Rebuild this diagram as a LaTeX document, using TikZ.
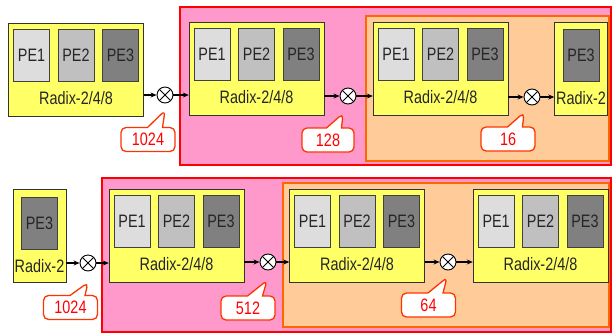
\documentclass[tikz,border=0pt]{standalone}
\usepackage{fontspec}
\setmainfont{Liberation Sans}[FakeStretch=0.8]
\usetikzlibrary{
  arrows.meta,
  positioning,
  shapes.callouts,
  calc
}
\definecolor{rdyellow}{HTML}{FFFF66}
\definecolor{rdpink}{HTML}{FF99CC}
\definecolor{rdpeach}{HTML}{FFCC99}
\definecolor{rdorange}{HTML}{FF6600}
\definecolor{rdred}{HTML}{FF0000}
\definecolor{rdnote}{HTML}{FF3300}
\definecolor{pelight}{HTML}{DDDDDD}
\definecolor{pemid}{HTML}{C0C0C0}
\definecolor{pedark}{HTML}{808080}

\begin{document}
\begin{tikzpicture}[
  x=1pt, y=-1pt,
  node distance=8pt,
  every node/.style={font=\fontsize{18}{20}\selectfont},
  stage/.style={draw=black!80, fill=rdyellow, minimum width=135pt, minimum height=93pt, inner sep=0pt},
  stagetwo/.style={stage, minimum width=53pt},
  pe/.style={draw=black!75, minimum width=36pt, minimum height=52pt, inner sep=0pt, text=black!85},
  radix/.style={inner sep=0pt, text=black!85},
  mult/.style={circle, draw, line width=0.9pt, fill=white, minimum size=16pt, inner sep=0pt,
    path picture={\draw (path picture bounding box.north west) -- (path picture bounding box.south east)
      (path picture bounding box.north east) -- (path picture bounding box.south west);}},
  link/.style={-{Stealth[length=6pt,width=5pt]}, line width=1.3pt},
  note/.style={rectangle callout, draw=rdnote, line width=1.3pt, fill=white, rounded corners=5pt,
    minimum width=54pt, minimum height=24pt, inner sep=0pt, text=rdred,
    callout pointer width=15pt, font=\fontsize{18}{20}\selectfont},
  pinkgroup/.style={fill=rdpink, draw=rdred, line width=1.6pt},
  peachgroup/.style={fill=rdpeach, draw=rdorange, line width=1.6pt}
]
  \useasboundingbox (0,0) rectangle (612,333);
  \clip (0,0) rectangle (612,333);

  % group boxes
  \draw[pinkgroup] (180,7) rectangle (611,165);
  \draw[peachgroup] (366,16) rectangle (609,161);
  \draw[pinkgroup] (102,178) rectangle (611,332);
  \draw[peachgroup] (283,183) rectangle (609,327);

  % ---- top row ----
  % stage 1
  \node[stage] (s1) at (76,69.5) {};
  \node[pe, fill=pemid, below=6pt of s1.north] (s1b) {PE2};
  \node[pe, fill=pelight, left=of s1b] (s1a) {PE1};
  \node[pe, fill=pedark, right=of s1b] (s1c) {PE3};
  \node[radix, below=10pt of s1b] (s1r) {Radix-2/4/8};

  % stage 2
  \node[stage] (s2) at (256.5,69) {};
  \node[pe, fill=pemid, below=6pt of s2.north] (s2b) {PE2};
  \node[pe, fill=pelight, left=of s2b] (s2a) {PE1};
  \node[pe, fill=pedark, right=of s2b] (s2c) {PE3};
  \node[radix, below=10pt of s2b] (s2r) {Radix-2/4/8};

  % stage 3
  \node[stage] (s3) at (440.5,69) {};
  \node[pe, fill=pemid, below=6pt of s3.north] (s3b) {PE2};
  \node[pe, fill=pelight, left=of s3b] (s3a) {PE1};
  \node[pe, fill=pedark, right=of s3b] (s3c) {PE3};
  \node[radix, below=10pt of s3b] (s3r) {Radix-2/4/8};

  % stage 4
  \node[stagetwo] (s4) at (581,68.5) {};
  \node[pe, fill=pedark, below=7pt of s4.north] (s4c) {PE3};
  \node[radix, below=10pt of s4c] (s4r) {Radix-2};

  % twiddle multipliers
  \node[mult] (m1) at (165,95) {};
  \node[mult] (m2) at (348,96) {};
  \node[mult] (m3) at (532,97) {};

  \draw[link] (m1 -| s1.east) -- (m1);
  \draw[link] (m1) -- (m1 -| s2.west);
  \draw[link] (m2 -| s2.east) -- (m2);
  \draw[link] (m2) -- (m2 -| s3.west);
  \draw[link] (m3 -| s3.east) -- (m3);
  \draw[link] (m3) -- (m3 -| s4.west);

  \node[note, callout absolute pointer={($(m1.south)+(0,7)$)}] (c1) at (148,139.5) {1024};
  \node[note, minimum width=52pt, callout absolute pointer={($(m2.south)+(-5,9)$)}] (c2) at (328,140) {128};
  \node[note, callout absolute pointer={($(m3.south)+(-8,7)$)}] (c3) at (508,139) {16};

  % ---- bottom row ----
  % stage A
  \node[stagetwo] (sA) at (39.5,236) {};
  \node[pe, fill=pedark, below=8pt of sA.north] (sAc) {PE3};
  \node[radix, below=10pt of sAc] (sAr) {Radix-2};

  % stage B
  \node[stage] (sB) at (176.5,236) {};
  \node[pe, fill=pemid, below=6pt of sB.north] (sBb) {PE2};
  \node[pe, fill=pelight, left=of sBb] (sBa) {PE1};
  \node[pe, fill=pedark, right=of sBb] (sBc) {PE3};
  \node[radix, below=10pt of sBb] (sBr) {Radix-2/4/8};

  % stage C
  \node[stage] (sC) at (357,235.5) {};
  \node[pe, fill=pemid, below=6pt of sC.north] (sCb) {PE2};
  \node[pe, fill=pelight, left=of sCb] (sCa) {PE1};
  \node[pe, fill=pedark, right=of sCb] (sCc) {PE3};
  \node[radix, below=10pt of sCb] (sCr) {Radix-2/4/8};

  % stage D
  \node[stage] (sD) at (540.5,235.5) {};
  \node[pe, fill=pemid, below=6pt of sD.north] (sDb) {PE2};
  \node[pe, fill=pelight, left=of sDb] (sDa) {PE1};
  \node[pe, fill=pedark, right=of sDb] (sDc) {PE3};
  \node[radix, below=10pt of sDb] (sDr) {Radix-2/4/8};

  % twiddle multipliers
  \node[mult] (mA) at (88,263) {};
  \node[mult] (mB) at (268,262) {};
  \node[mult] (mC) at (448,262) {};

  \draw[link] (mA -| sA.east) -- (mA);
  \draw[link] (mA) -- (mA -| sB.west);
  \draw[link] (mB -| sB.east) -- (mB);
  \draw[link] (mB) -- (mB -| sC.west);
  \draw[link] (mC -| sC.east) -- (mC);
  \draw[link] (mC) -- (mC -| sD.west);

  \node[note, callout absolute pointer={($(mA.south)+(0,11)$)}] (cA) at (70.5,307.5) {1024};
  \node[note, callout absolute pointer={($(mB.south)+(-1,10)$)}] (cB) at (248,308) {512};
  \node[note, callout absolute pointer={($(mC.south)+(-1,7)$)}] (cC) at (428.5,305) {64};
\end{tikzpicture}
\end{document}
